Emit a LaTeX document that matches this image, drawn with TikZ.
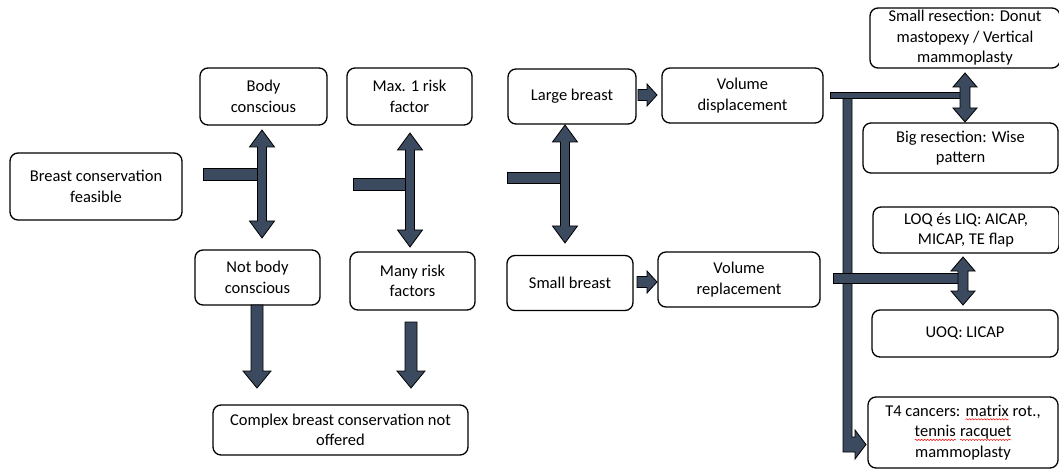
\documentclass[tikz,border=0pt]{standalone}
\usepackage{fontspec}
\setmainfont{Carlito}
\usetikzlibrary{decorations.pathmorphing}
\definecolor{arrowc}{RGB}{59,74,94}
\newcommand\redwave[1]{\tikz[baseline=(w.base)]{\node[inner sep=0pt, outer sep=0pt, minimum width=0pt, minimum height=0pt,
    draw=none, fill=none, rounded corners=0pt, anchor=center] (w) {#1};
  \draw[draw=red, line width=0.5pt, sharp corners, decorate, decoration={snake, amplitude=0.7pt, segment length=3pt}]
   ([yshift=-3pt]w.base west) -- ([yshift=-3pt]w.base east);}}
\newcommand\myVDbl[6]{% x, ytop, ybot, shaft w, head w, head len
  \filldraw[blockarrow] ({#1-#4/2},{#2+#6}) -- ({#1-#5/2},{#2+#6}) -- (#1,#2) -- ({#1+#5/2},{#2+#6}) -- ({#1+#4/2},{#2+#6})
   -- ({#1+#4/2},{#3-#6}) -- ({#1+#5/2},{#3-#6}) -- (#1,#3) -- ({#1-#5/2},{#3-#6}) -- ({#1-#4/2},{#3-#6}) -- cycle;}
\newcommand\myDArr[6]{% x, ytop, ybot, shaft w, head w, head len
  \filldraw[blockarrow] ({#1-#4/2},#2) -- ({#1+#4/2},#2) -- ({#1+#4/2},{#3-#6}) -- ({#1+#5/2},{#3-#6}) -- (#1,#3)
   -- ({#1-#5/2},{#3-#6}) -- ({#1-#4/2},{#3-#6}) -- cycle;}
\newcommand\myRArr[6]{% y, xleft, xright, shaft h, head h, head len
  \filldraw[blockarrow] (#2,{#1-#4/2}) -- ({#3-#6},{#1-#4/2}) -- ({#3-#6},{#1-#5/2}) -- (#3,#1) -- ({#3-#6},{#1+#5/2})
   -- ({#3-#6},{#1+#4/2}) -- (#2,{#1+#4/2}) -- cycle;}
\begin{document}
\begin{tikzpicture}[x=1pt,y=-1pt,
  box/.style={draw=black, line width=1.3pt, rounded corners=8pt, align=center, inner sep=0pt,
    font=\fontsize{16.5}{20.5}\selectfont, fill=white},
  blockarrow/.style={fill=arrowc, draw=black, line width=0.8pt, line join=miter}]
\useasboundingbox (0,0) rectangle (1059,470);
\fill[white] (0,0) rectangle (1059,470);

% boxes
\node[box, minimum width=172pt, minimum height=67pt] (feas) at (96,186.5) {Breast conservation\\feasible};
\node[box, minimum width=127pt, minimum height=57pt] (body) at (263.5,96.5) {Body\\conscious};
\node[box, minimum width=125pt, minimum height=57pt] (max1) at (409.5,96.5) {Max. 1 risk\\factor};
\node[box, minimum width=125pt, minimum height=55pt] (notbody) at (257.5,277.5) {Not body\\conscious};
\node[box, minimum width=125pt, minimum height=58pt] (many) at (412.5,281) {Many risk\\factors};
\node[box, minimum width=128pt, minimum height=55pt] (large) at (572,96.5) {Large breast};
\node[box, minimum width=161pt, minimum height=55pt] (displ) at (742.5,95.5) {Volume\\displacement};
\node[box, minimum width=126pt, minimum height=55pt] (small) at (570,283) {Small breast};
\node[box, minimum width=162pt, minimum height=55pt] (repl) at (739,279.5) {Volume\\replacement};
\node[box, minimum width=190pt, minimum height=60pt] (smallres) at (965,38) {Small resection: Donut\\mastopexy / Vertical\\mammoplasty};
\node[box, minimum width=195pt, minimum height=50pt] (bigres) at (960.5,148) {Big resection: Wise\\pattern};
\node[box, minimum width=186pt, minimum height=46pt] (loq) at (966,230) {LOQ és LIQ: AICAP,\\MICAP, TE flap};
\node[box, minimum width=186pt, minimum height=47pt] (uoq) at (965,333.5) {UOQ: LICAP};
\node[box, minimum width=190pt, minimum height=71pt] (t4) at (963,432.5) {T4 cancers: \redwave{matrix} rot.,\\\redwave{tennis} \redwave{racquet}\\mammoplasty};
\node[box, minimum width=255pt, minimum height=50pt] (complex) at (340.5,430) {Complex breast conservation not\\offered};

% tees
\filldraw[blockarrow] (203,168) rectangle (260,180);
\myVDbl{262}{130}{238}{9}{25}{17}
\filldraw[blockarrow] (353,178) rectangle (408,190);
\myVDbl{410}{133}{247}{9}{25}{17}
\filldraw[blockarrow] (507,172) rectangle (563,183);
\myVDbl{565}{125}{243}{9}{25}{17}

% small right arrows
\myRArr{95}{638}{657}{11}{22}{10}
\myRArr{282}{637}{657}{11}{22}{10}

% down arrows
\myDArr{257}{305}{388}{12}{28}{17}
\myDArr{411}{322}{388}{12}{28}{17}

% right side
\filldraw[blockarrow] (843,93) -- (852,93) -- (852,437) -- (855,437) -- (855,430) -- (866,444.5) -- (855,459) -- (855,452) -- (843,452) -- cycle;
\filldraw[blockarrow] (830,92) rectangle (962,98);
\filldraw[blockarrow] (833,273) rectangle (960,283);
\myVDbl{965}{73}{122}{10}{24}{14}
\myVDbl{963}{257}{305}{10}{24}{14}
\end{tikzpicture}
\end{document}
